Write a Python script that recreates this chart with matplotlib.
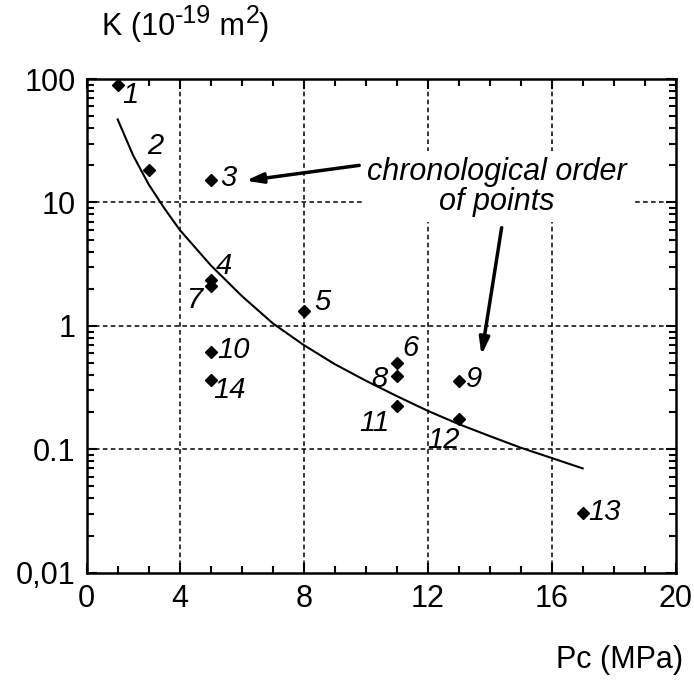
import numpy as np
import matplotlib.pyplot as plt
from matplotlib.ticker import FixedLocator, NullFormatter, LogLocator

plt.rcParams['font.family'] = ['Liberation Sans', 'DejaVu Sans']

# measured points, in chronological order
point_ids = ['1', '2', '3', '4', '5', '6', '7', '8', '9', '10', '11', '12', '13', '14']
pc = [2, 3, 5, 5, 8, 11, 5, 11, 13, 5, 11, 13, 17, 5]
perm = [90, 18.2, 15.2, 2.36, 1.33, 0.50, 2.11, 0.39, 0.36, 0.61, 0.225, 0.177, 0.0304, 0.366]

# label positions
lab_x = [2.4, 3.2, 5.56, 5.43, 8.6, 11.43, 4.5, 10.43, 13.5, 5.72, 10.27, 12.5, 17.72, 5.62]
lab_y = [74, 28.5, 15.8, 3.06, 1.56, 0.66, 1.62, 0.372, 0.372, 0.64, 0.164, 0.119, 0.0312, 0.30]

# fitted trend curve
curve_pc = [2, 2.5, 3, 3.5, 4, 5, 6, 7, 8, 9, 10, 11, 12, 13, 14, 15, 16, 17]
curve_k = [47, 24, 14, 9.0, 6.0, 3.1, 1.75, 1.05, 0.70, 0.49, 0.36, 0.27, 0.205, 0.16, 0.128, 0.103, 0.085, 0.07]

x_ticks = [1, 4, 8, 12, 16, 20]
x_tick_labels = ['0', '4', '8', '12', '16', '20']
y_ticks = [0.01, 0.1, 1, 10, 100]
y_tick_labels = ['0,01', '0.1', '1', '10', '100']

fig = plt.figure(figsize=(6.94, 6.84), dpi=100)
ax = fig.add_axes([0.1249, 0.1627, 0.8487, 0.7218])

ax.set_yscale('log')
ax.set_xlim(1, 20)
ax.set_ylim(0.01, 100)

# dashed grid
for gx in [4, 8, 12, 16]:
    ax.axvline(gx, color='black', lw=1.1, ls=(0, (3, 2.2)), zorder=1)
for gy in [0.1, 1, 10]:
    ax.axhline(gy, color='black', lw=1.1, ls=(0, (3, 2.2)), zorder=1)

ax.plot(curve_pc, curve_k, color='black', lw=1.5, zorder=3)
ax.plot(pc, perm, 'D', color='black', ms=6.5, zorder=4)

for t, lx, ly in zip(point_ids, lab_x, lab_y):
    ax.text(lx, ly, t, fontsize=21, style='italic', ha='center', va='center', zorder=5)

ax.text(14.24, 13.4, 'chronological order\nof points', fontsize=22, style='italic',
        ha='center', va='center', linespacing=1.0, zorder=5,
        bbox=dict(facecolor='white', edgecolor='none', pad=4))

ax.annotate('', xy=(6.04, 14.9), xytext=(9.88, 20.1),
            arrowprops=dict(arrowstyle='-|>,head_length=1.0,head_width=0.3', color='black', lw=2.5),
            zorder=6)
ax.annotate('', xy=(13.72, 0.55), xytext=(14.4, 6.57),
            arrowprops=dict(arrowstyle='-|>,head_length=1.0,head_width=0.3', color='black', lw=2.5),
            zorder=6)

ax.set_xticks(x_ticks)
ax.set_xticklabels(x_tick_labels)
ax.xaxis.set_minor_locator(FixedLocator([v for v in range(2, 20) if v not in x_ticks]))
ax.set_yticks(y_ticks)
ax.set_yticklabels(y_tick_labels)
ax.yaxis.set_minor_locator(LogLocator(base=10, subs=np.arange(2, 10)))
ax.yaxis.set_minor_formatter(NullFormatter())

ax.tick_params(which='both', direction='in', top=True, right=True, labelsize=22, width=1.5, pad=8)
ax.tick_params(which='major', length=7)
ax.tick_params(which='minor', length=5)
for s in ax.spines.values():
    s.set_linewidth(1.8)

# y axis title, built from pieces so the superscripts keep a plain hyphen
t1 = fig.text(0.147, 0.96, 'K (10', fontsize=22, ha='left', va='center')
fig.canvas.draw()
bb = t1.get_window_extent()
x1 = bb.x1 / fig.bbox.width
t2 = fig.text(x1, 0.977, '-19', fontsize=18, ha='left', va='center')
bb = t2.get_window_extent()
x2 = bb.x1 / fig.bbox.width
t3 = fig.text(x2, 0.96, ' m', fontsize=22, ha='left', va='center')
bb = t3.get_window_extent()
x3 = bb.x1 / fig.bbox.width
t4 = fig.text(x3, 0.977, '2', fontsize=18, ha='left', va='center')
bb = t4.get_window_extent()
x4 = bb.x1 / fig.bbox.width
fig.text(x4, 0.96, ')', fontsize=22, ha='left', va='center')

fig.text(0.984, 0.035, 'Pc (MPa)', fontsize=22, ha='right', va='center')

fig.savefig('out.png', dpi=100)
